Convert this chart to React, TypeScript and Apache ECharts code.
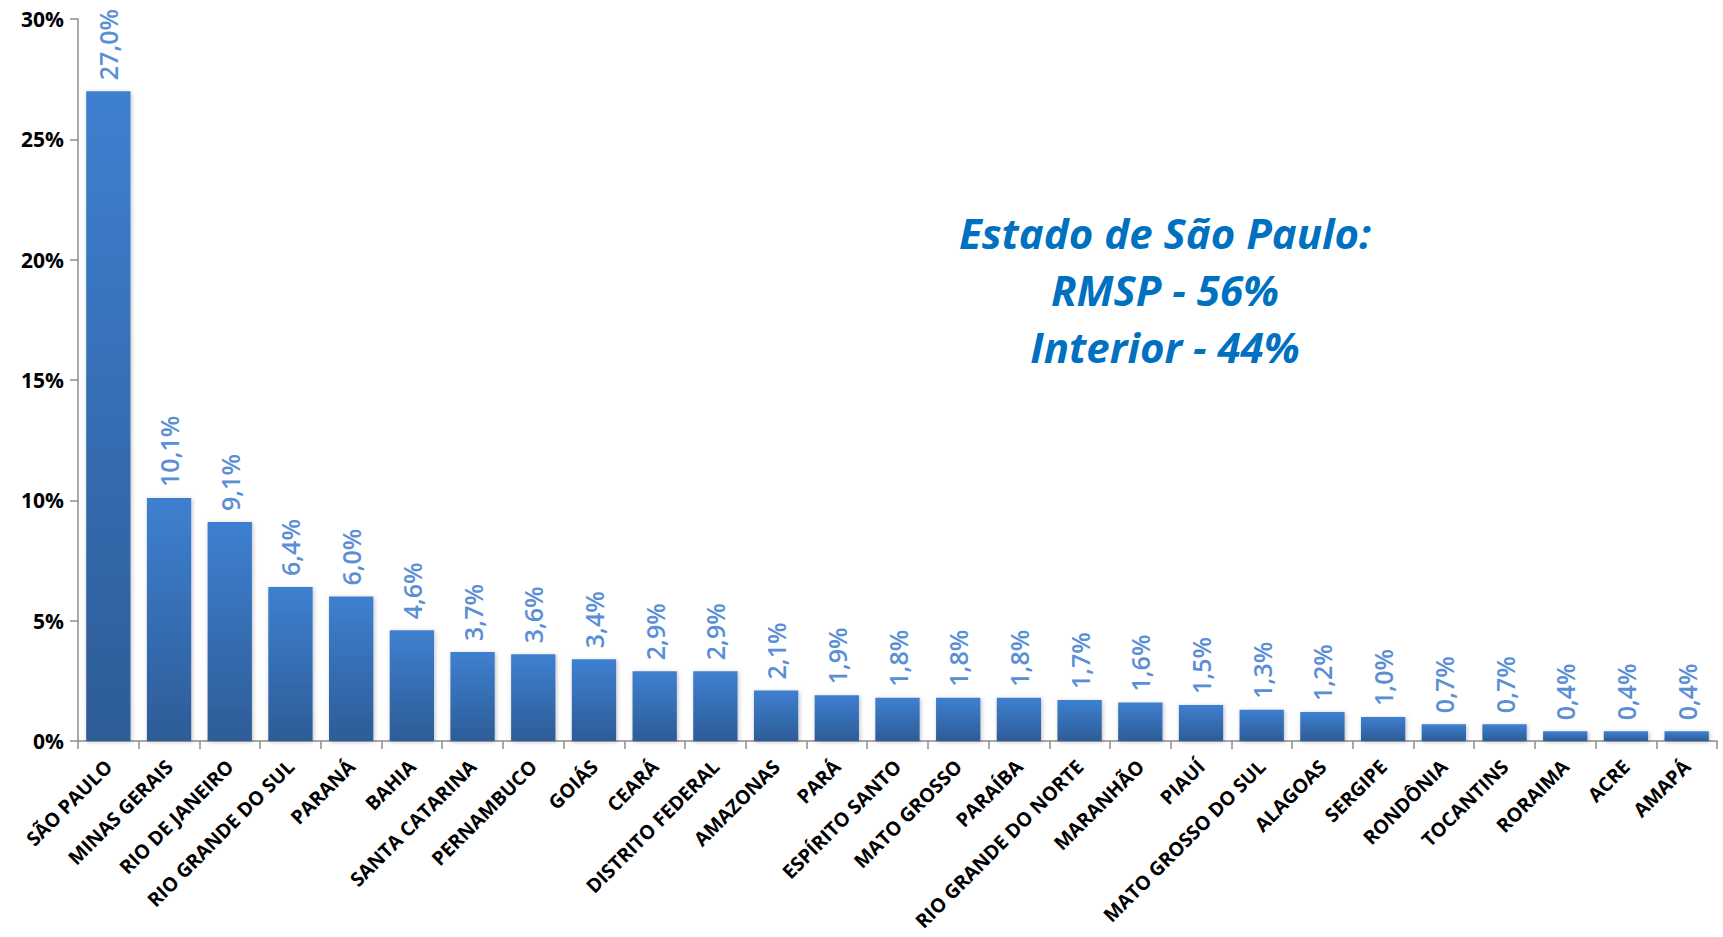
import React, { useEffect, useRef } from "react";
import * as echarts from "echarts";

const states = [
  "SÃO PAULO", "MINAS GERAIS", "RIO DE JANEIRO", "RIO GRANDE DO SUL", "PARANÁ", "BAHIA",
  "SANTA CATARINA", "PERNAMBUCO", "GOIÁS", "CEARÁ", "DISTRITO FEDERAL", "AMAZONAS", "PARÁ",
  "ESPÍRITO SANTO", "MATO GROSSO", "PARAÍBA", "RIO GRANDE DO NORTE", "MARANHÃO", "PIAUÍ",
  "MATO GROSSO DO SUL", "ALAGOAS", "SERGIPE", "RONDÔNIA", "TOCANTINS", "RORAIMA", "ACRE", "AMAPÁ",
];
const shares = [
  27.0, 10.1, 9.1, 6.4, 6.0, 4.6, 3.7, 3.6, 3.4, 2.9, 2.9, 2.1, 1.9,
  1.8, 1.8, 1.8, 1.7, 1.6, 1.5, 1.3, 1.2, 1.0, 0.7, 0.7, 0.4, 0.4, 0.4,
];
const annotationLines = ["Estado de São Paulo:", "RMSP - 56%", "Interior - 44%"];

export default function App() {
  const ref = useRef<HTMLDivElement>(null);
  useEffect(() => {
    if (!ref.current) return;
    const chart = echarts.init(ref.current, undefined, { renderer: "svg" });
    chart.setOption({
      animation: false,
      backgroundColor: "#ffffff",
      grid: { left: 78, right: 6, top: 19, bottom: 196, containLabel: false },
      xAxis: {
        type: "category",
        data: states,
        axisLine: { show: true, lineStyle: { color: "#8c8c8c", width: 1.5 } },
        axisTick: { show: true, alignWithLabel: false, length: 8, lineStyle: { color: "#8c8c8c", width: 1.5 } },
        axisLabel: {
          interval: 0,
          rotate: 45,
          fontFamily: "Open Sans",
          fontWeight: "bold",
          fontSize: 19.5,
          color: "#000000",
          margin: 22,
        },
      },
      yAxis: {
        type: "value",
        min: 0,
        max: 30,
        interval: 5,
        splitLine: { show: false },
        axisLine: { show: true, lineStyle: { color: "#8c8c8c", width: 1.5 } },
        axisTick: { show: true, length: 8, lineStyle: { color: "#8c8c8c", width: 1.5 } },
        axisLabel: {
          formatter: "{value}%",
          fontFamily: "Open Sans",
          fontWeight: "bold",
          fontSize: 21,
          color: "#000000",
          margin: 14,
        },
      },
      series: [
        {
          type: "bar",
          data: shares,
          barCategoryGap: "27%",
          itemStyle: {
            color: new echarts.graphic.LinearGradient(0, 0, 0, 1, [
              { offset: 0, color: "#3e80d0" },
              { offset: 1, color: "#2d5c97" },
            ]),
            shadowColor: "rgba(0,0,0,0.25)",
            shadowBlur: 4,
            shadowOffsetX: 1,
            shadowOffsetY: 1,
          },
          label: {
            show: true,
            position: "top",
            rotate: 90,
            align: "left",
            verticalAlign: "middle",
            distance: 11,
            fontFamily: "Open Sans",
            fontWeight: 600,
            fontSize: 25,
            color: "#5a8fd6",
            formatter: (p: any) => p.value.toFixed(1).replace(".", ",") + "%",
          },
        },
      ],
      graphic: annotationLines.map((t, i) => ({
        type: "text",
        x: 1165,
        y: 232 + i * 57,
        style: {
          text: t,
          align: "center",
          verticalAlign: "middle",
          fontFamily: "Open Sans",
          fontStyle: "italic",
          fontWeight: "bold",
          fontSize: 42,
          fill: "#0070c0",
        },
      })),
    });
    return () => chart.dispose();
  }, []);
  return (
    <div
      ref={ref}
      style={{ position: "fixed", left: 0, top: 0, width: 1723, height: 937 }}
    />
  );
}
